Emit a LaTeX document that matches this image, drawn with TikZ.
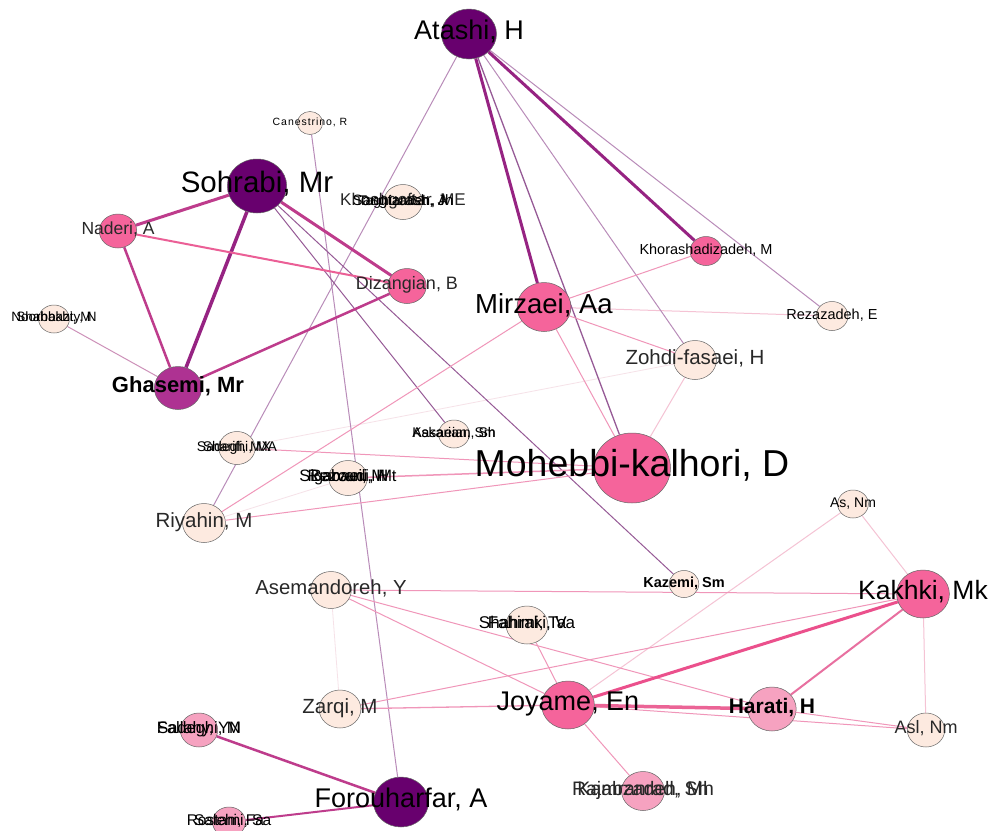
\documentclass[tikz,border=0pt]{standalone}
\usepackage{fontspec}
\setmainfont{Liberation Sans}
\usetikzlibrary{shapes.geometric}
\pgfdeclarelayer{bg}
\pgfsetlayers{bg,main}
\definecolor{dpur}{RGB}{104,0,110}
\definecolor{mpur}{RGB}{174,50,146}
\definecolor{npink}{RGB}{245,100,155}
\definecolor{lpink}{RGB}{246,162,192}
\definecolor{beige}{RGB}{253,234,224}
\definecolor{cthkp}{RGB}{150,35,130}
\definecolor{cthkm}{RGB}{190,60,140}
\definecolor{cthinp}{RGB}{185,140,185}
\definecolor{cpurp}{RGB}{150,90,150}
\definecolor{cpink}{RGB}{240,150,185}
\definecolor{clp}{RGB}{245,195,212}
\definecolor{cfaint}{RGB}{246,226,232}
\definecolor{ctxt}{RGB}{40,40,40}
\definecolor{cgs}{RGB}{205,145,185}
\definecolor{cnd}{RGB}{235,95,150}
\definecolor{cjk}{RGB}{235,80,140}
\definecolor{cjh}{RGB}{235,100,150}
\definecolor{chk}{RGB}{232,112,160}
\begin{document}
\begin{tikzpicture}[x=1pt,y=-1pt,
  pn/.style={ellipse,draw=black!60,line width=0.5pt,inner sep=0pt,minimum height=#1,minimum width=1.1*#1},
  lb/.style={font=\fontsize{#1}{#1}\selectfont,inner sep=0pt,anchor=base,yshift=-0.22*#1,text=black},
  lbg/.style={lb=#1,text=ctxt},
  lbb/.style={lb=#1,font=\fontsize{#1}{#1}\selectfont\bfseries},
  efaint/.style={draw=cfaint,line width=0.8pt},
  elp/.style={draw=clp,line width=1pt},
  epink/.style={draw=cpink,line width=1pt},
  ethinp/.style={draw=cthinp,line width=1pt},
  epurp/.style={draw=cpurp,line width=1.3pt},
  ethk/.style={draw=cthkp,line width=#1},
  emag/.style={draw=cthkm,line width=#1},
]
\useasboundingbox (0,0) rectangle (990,830);
\begin{pgfonlayer}{bg}
\fill[white] (0,0) rectangle (990,830);
\end{pgfonlayer}

% nodes
\node[pn=50,fill=dpur] (ata) at (469,34) {};
\node[pn=54,fill=dpur] (soh) at (257,186) {};
\node[pn=34,fill=npink] (nad) at (118,231) {};
\node[pn=35,fill=npink] (diz) at (407,286) {};
\node[pn=43,fill=mpur] (gha) at (178,388) {};
\node[pn=23,fill=beige] (can) at (310,123) {};
\node[pn=35,fill=beige] (kme) at (403,202) {};
\node[pn=28,fill=beige] (sha) at (54,319) {};
\node[pn=49,fill=npink] (mir) at (544,307) {};
\node[pn=29,fill=npink] (khm) at (706,251) {};
\node[pn=29,fill=beige] (rez) at (832,316) {};
\node[pn=39,fill=beige] (zoh) at (695,360) {};
\node[pn=33,fill=beige] (sad) at (237,448) {};
\node[pn=39,fill=beige] (riy) at (204,523) {};
\node[pn=35,fill=beige] (rig) at (348,478) {};
\node[pn=28,fill=beige] (kas) at (454,434) {};
\node[pn=70,fill=npink] (moh) at (632,468) {};
\node[pn=37,fill=beige] (ase) at (331,590) {};
\node[pn=38,fill=beige] (zar) at (340,709) {};
\node[pn=34,fill=lpink] (fad) at (199,730) {};
\node[pn=50,fill=dpur] (for) at (401,802) {};
\node[pn=30,fill=lpink] (bot) at (229,822) {};
\node[pn=28,fill=beige] (asn) at (853,504) {};
\node[pn=27,fill=beige] (kaz) at (684,584) {};
\node[pn=48,fill=npink] (kak) at (923,594) {};
\node[pn=38,fill=beige] (shr) at (527,625) {};
\node[pn=48,fill=npink] (joy) at (568,705) {};
\node[pn=44,fill=lpink] (har) at (772,709) {};
\node[pn=34,fill=beige] (asl) at (926,730) {};
\node[pn=39,fill=lpink] (raj) at (643,791) {};

% edges
\begin{pgfonlayer}{bg}
\draw[efaint] (sad) -- (zoh);
\draw[efaint] (ase) -- (zar);
\draw[efaint] (riy) -- (rig);
\draw[elp] (mir) -- (rez);
\draw[elp] (kak) -- (asn);
\draw[elp] (kak) -- (asl);
\draw[elp] (asn) -- (joy);
\draw[elp] (moh) -- (zoh);
\draw[ethinp] (ata) -- (zoh);
\draw[ethinp] (ata) -- (rez);
\draw[ethinp] (ata) -- (riy);
\draw[ethinp] (can) -- (for);
\draw[draw=cgs,line width=1pt] (gha) -- (sha);
\draw[epurp,line width=1pt] (soh) -- (kas);
\draw[epurp,line width=1pt] (soh) -- (kaz);
\draw[epurp] (ata) -- (moh);
\draw[epink] (moh) -- (sad);
\draw[epink,line width=1.5pt] (moh) -- (rig);
\draw[epink] (moh) -- (riy);
\draw[epink] (moh) -- (mir);
\draw[epink] (mir) -- (riy);
\draw[epink] (mir) -- (zoh);
\draw[epink] (mir) -- (khm);
\draw[epink] (ase) -- (kak);
\draw[epink] (ase) -- (joy);
\draw[epink] (ase) -- (har);
\draw[epink,line width=1.3pt] (zar) -- (joy);
\draw[epink] (zar) -- (kak);
\draw[epink] (joy) -- (asl);
\draw[epink] (har) -- (asl);
\draw[epink] (joy) -- (raj);
\draw[epink] (shr) -- (joy);
\draw[ethk=3pt] (ata) -- (mir);
\draw[ethk=3pt] (ata) -- (khm);
\draw[emag=3pt] (soh) -- (nad);
\draw[ethk=3.5pt] (soh) -- (gha);
\draw[emag=3pt] (soh) -- (diz);
\draw[emag=2.5pt] (nad) -- (gha);
\draw[draw=cnd,line width=2pt] (nad) -- (diz);
\draw[emag=2.5pt] (gha) -- (diz);
\draw[emag=2.5pt] (for) -- (fad);
\draw[emag=2pt] (for) -- (bot);
\draw[draw=cjk,line width=3pt] (joy) -- (kak);
\draw[draw=cjh,line width=3.5pt] (joy) -- (har);
\draw[draw=chk,line width=2pt] (har) -- (kak);
\end{pgfonlayer}

% labels
\node[lb=27] (ata-l) at (ata) {Atashi, H};
\node[lb=29.5] (soh-l) at (soh) {Sohrabi, Mr};
\node[lbg=17.5] (nad-l) at (nad) {Naderi, A};
\node[lbg=18] (diz-l) at (diz) {Dizangian, B};
\node[lbb=22] (gha-l) at (gha) {Ghasemi, Mr};
\node[lb=10.5,font=\fontsize{10.5}{10.5}\selectfont\addfontfeature{LetterSpace=9}] (can-l) at (can) {Canestrino, R};
\node[lbg=17] (kme-l1) at (kme) {Khoshgoftar, ME};
\node[lb=15] (kme-l2) at (kme) {Sangtarash, Jh};
\node[lb=14] (kme-l3) at (kme) {Taghizadeh, A};
\node[lb=13.5] (sha-l1) at (sha) {Shahbazi, M};
\node[lb=13.5] (sha-l2) at (sha) {Noorbakhty, N};
\node[lb=27.5] (mir-l) at (mir) {Mirzaei, Aa};
\node[lb=14.5] (khm-l) at (khm) {Khorashadizadeh, M};
\node[lb=14.5] (rez-l) at (rez) {Rezazadeh, E};
\node[lbg=20.5] (zoh-l) at (zoh) {Zohdi-fasaei, H};
\node[lb=14] (sad-l1) at (sad) {Sadeghi, MA};
\node[lb=14] (sad-l2) at (sad) {Sharifi, MX};
\node[lbg=20.5] (riy-l) at (riy) {Riyahin, M};
\node[lb=16.5] (rig-l1) at (rig) {Rezvani, H};
\node[lb=16.5] (rig-l2) at (rig) {Sigaroudi, Mt};
\node[lb=16.5] (rig-l3) at (rig) {Babaei, M};
\node[lb=14] (kas-l1) at (kas) {Kasaeian, Sh};
\node[lb=14] (kas-l2) at (kas) {Askarian, Sm};
\node[lb=37.5] (moh-l) at (moh) {Mohebbi-kalhori, D};
\node[lbg=20.3] (ase-l) at (ase) {Asemandoreh, Y};
\node[lbg=20.5] (zar-l) at (zar) {Zarqi, M};
\node[lb=16.5] (fad-l1) at (fad) {Sadeghi, M};
\node[lb=16.5] (fad-l2) at (fad) {Fallahy, YN};
\node[lb=27] (for-l) at (for) {Forouharfar, A};
\node[lb=15.5] (bot-l1) at (bot) {Rostami, Sa};
\node[lb=15.5] (bot-l2) at (bot) {Salehi, Fa};
\node[lb=14] (asn-l) at (asn) {As, Nm};
\node[lbb=14.5] (kaz-l) at (kaz) {Kazemi, Sm};
\node[lb=26.5] (kak-l) at (kak) {Kakhki, Mk};
\node[lb=17] (shr-l1) at (shr) {Shahraki, Va};
\node[lb=17] (shr-l2) at (shr) {Fahimi, Ta};
\node[lb=27] (joy-l) at (joy) {Joyame, En};
\node[lbb=21] (har-l) at (har) {Harati, H};
\node[lbg=18] (asl-l) at (asl) {Asl, Nm};
\node[lbg=19.5] (raj-l1) at (raj) {Rajabzadeh, Mh};
\node[lbg=19.5] (raj-l2) at (raj) {Kamranrad, Sh};
\end{tikzpicture}
\end{document}
